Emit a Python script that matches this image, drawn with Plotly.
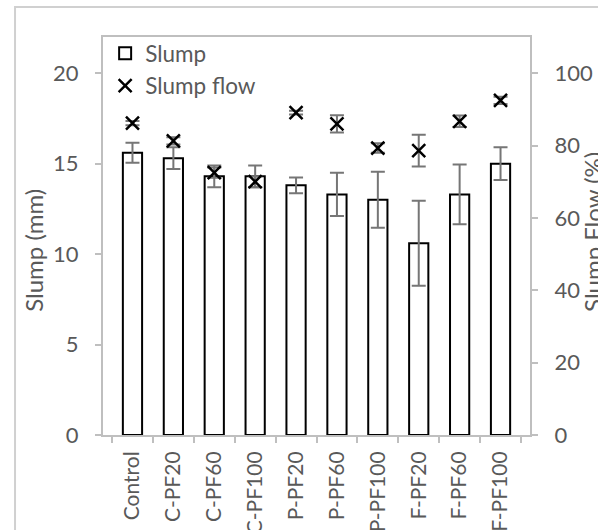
import plotly.graph_objects as go

# Mix designs
categories = ["Control", "C-PF20", "C-PF60", "C-PF100", "P-PF20",
              "P-PF60", "P-PF100", "F-PF20", "F-PF60", "F-PF100"]

# Slump (mm) with standard deviation
slump = [15.6, 15.3, 14.3, 14.3, 13.8, 13.3, 13.0, 10.6, 13.3, 15.0]
slump_err = [0.55, 0.6, 0.6, 0.6, 0.44, 1.2, 1.55, 2.35, 1.65, 0.9]

# Slump flow (%) with standard deviation
flow = [86.2, 81.3, 72.5, 70.0, 89.1, 86.0, 79.3, 78.6, 86.7, 92.5]
flow_err = [0.6, 1.0, 1.4, 1.5, 0.5, 2.4, 1.3, 4.4, 1.6, 1.0]

left_ticks = [0, 5, 10, 15, 20]
right_ticks = [0, 20, 40, 60, 80, 100]

TXT = "#595959"
AXIS = "#bfbfbf"
ERR = "#767676"
FONT = "Lato"
TICK_SIZE = 22
CAT_SIZE = 21
TITLE_SIZE = 24

fig = go.Figure()

fig.add_trace(go.Bar(
    x=categories, y=slump, name="Slump",
    marker=dict(color="white", line=dict(color="black", width=2)),
    error_y=dict(type="data", array=slump_err, color=ERR, thickness=2, width=7),
    yaxis="y",
))

fig.add_trace(go.Scatter(
    x=categories, y=flow, name="Slump flow", mode="markers",
    marker=dict(symbol="x-thin", size=13, color="black",
                line=dict(color="black", width=2.5)),
    error_y=dict(type="data", array=flow_err, color=ERR, thickness=2, width=7),
    yaxis="y2",
))

fig.update_layout(
    width=598, height=530,
    margin=dict(l=103, r=68, t=37, b=95),
    paper_bgcolor="white", plot_bgcolor="white",
    font=dict(family=FONT, size=TICK_SIZE, color=TXT),
    bargap=0.53,
    showlegend=True,
    legend=dict(x=0.005, y=1.012, xanchor="left", yanchor="top",
                bgcolor="rgba(0,0,0,0)", font=dict(size=22.5, color=TXT),
                itemwidth=30, tracegroupgap=0),
    xaxis=dict(
        type="category", showgrid=False, automargin=False,
        showline=True, linecolor=AXIS, linewidth=2, mirror=True,
        ticks="outside", tickson="boundaries", ticklen=6, tickcolor=AXIS,
        tickwidth=1.5, tickangle=-90, ticklabelstandoff=6,
        tickfont=dict(size=CAT_SIZE, color=TXT),
    ),
    yaxis=dict(
        range=[0, 22], tickvals=left_ticks, showgrid=False, zeroline=False,
        automargin=False,
        showline=True, linecolor=AXIS, linewidth=2,
        ticks="outside", ticklen=6, tickcolor=AXIS, tickwidth=1.5,
        ticklabelstandoff=12, tickfont=dict(size=TICK_SIZE, color=TXT),
    ),
    yaxis2=dict(
        range=[0, 110], tickvals=right_ticks, overlaying="y", side="right",
        showgrid=False, zeroline=False, automargin=False,
        showline=True, linecolor=AXIS, linewidth=2,
        ticks="outside", ticklen=6, tickcolor=AXIS, tickwidth=1.5,
        ticklabelstandoff=12, tickfont=dict(size=TICK_SIZE, color=TXT),
    ),
    annotations=[
        dict(text="Slump (mm)", xref="paper", yref="paper",
             x=-0.162, y=0.465, xanchor="center", yanchor="middle",
             textangle=-90, showarrow=False,
             font=dict(size=TITLE_SIZE, color=TXT)),
        dict(text="Slump Flow (%)", xref="paper", yref="paper",
             x=1.145, y=0.51, xanchor="center", yanchor="middle",
             textangle=-90, showarrow=False,
             font=dict(size=TITLE_SIZE, color=TXT)),
    ],
    shapes=[
        # outer chart frame
        dict(type="rect", xref="paper", yref="paper",
             x0=-0.206, x1=1.4, y0=-0.4, y1=1.0754,
             line=dict(color="#d0d0d0", width=2), layer="below"),
    ],
)

fig.write_html("out.html")
